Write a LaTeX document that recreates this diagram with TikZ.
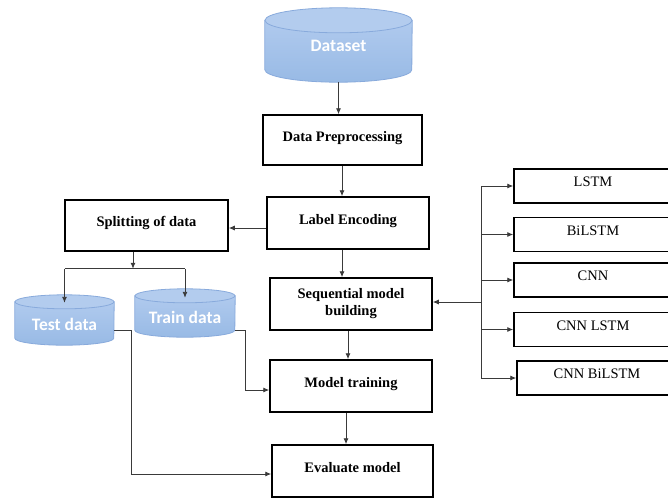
\documentclass[tikz,border=0pt]{standalone}
\usepackage{fontspec}
\setmainfont{Liberation Serif}
\newfontfamily\cylfont{Carlito}
\usetikzlibrary{arrows.meta,calc}
\definecolor{cylbodytop}{HTML}{B0CAEE}
\definecolor{cylbodybot}{HTML}{98BAE5}
\definecolor{cyltop}{HTML}{B3CCEE}
\definecolor{cyledge}{HTML}{88AADC}
\definecolor{linkcol}{HTML}{3A3A3A}
% cylinder outline inside the bounds of node #1, ellipse radii #2 and #3
\newcommand\storeshape[3]{%
  \path[top color=cylbodytop,bottom color=cylbodybot,draw=cyledge,line width=0.8pt]
    ([yshift=-#3]#1.north west) -- ([yshift=#3]#1.south west)
    arc[start angle=180,end angle=360,x radius=#2,y radius=#3]
    -- ([yshift=-#3]#1.north east) -- cycle;
  \path[fill=cyltop,draw=cyledge,line width=0.8pt]
    ([yshift=-#3]#1.north) ellipse[x radius=#2,y radius=#3];
}
\begin{document}
\begin{tikzpicture}[x=1pt,y=-1pt,
  stepbox/.style={draw=black,line width=1.5pt,rectangle,inner sep=2pt,
    font=\fontsize{14.5}{17}\selectfont\bfseries,text height=10pt,text depth=8pt},
  modelbox/.style={draw=black,line width=1.5pt,rectangle,minimum height=34pt,
    font=\fontsize{14.5}{16}\selectfont,text height=10pt,text depth=9pt},
  store/.style={rectangle,inner sep=0pt},
  storetext/.style={text=white,font=\cylfont\bfseries\fontsize{17.5}{19}\selectfont,inner sep=0pt},
  link/.style={draw=linkcol,line width=0.9pt,-{Latex[length=6pt,width=5pt]}},
  wire/.style={draw=linkcol,line width=0.9pt}]
\clip (0,0) rectangle (668,498);
\fill[white] (0,0) rectangle (668,498);

% data stores
\node[store,minimum width=147pt,minimum height=74pt] (ds) at (338.5,45) {};
\storeshape{ds}{73.5pt}{12.5pt}
\node[storetext] (dstext) at (338.5,46) {Dataset};
\node[store,minimum width=99pt,minimum height=50pt] (test) at (64.5,320) {};
\storeshape{test}{49.5pt}{7pt}
\node[storetext] (testtext) at (64.5,324) {Test data};
\node[store,minimum width=100pt,minimum height=48pt] (trn) at (185,313) {};
\storeshape{trn}{50pt}{7pt}
\node[storetext] (trntext) at (185,317) {Train data};

% pipeline steps
\node[stepbox,minimum width=159pt,minimum height=50pt] (pre) at (342.5,140) {Data Preprocessing};
\node[stepbox,minimum width=162pt,minimum height=52pt] (enc) at (348,223) {Label Encoding};
\node[stepbox,minimum width=163pt,minimum height=51pt] (split) at (146.5,225.5) {Splitting of data};
\node[draw=black,line width=1.5pt,rectangle,minimum width=162pt,minimum height=52pt,
  align=center,font=\fontsize{14.5}{17}\selectfont\bfseries] (seq) at (351,304)
  {Sequential model\\building};
\node[stepbox,minimum width=162pt,minimum height=52pt] (train) at (351,386) {Model training};
\node[stepbox,minimum width=161pt,minimum height=52pt] (eval) at (352.5,471) {Evaluate model};

% candidate models
\node[modelbox,minimum width=158pt] (lstm) at (593,186) {LSTM};
\node[modelbox,minimum width=158pt] (bilstm) at (593,234.5) {BiLSTM};
\node[modelbox,minimum width=158pt] (cnn) at (593,280) {CNN};
\node[modelbox,minimum width=158pt] (cnnlstm) at (593,329.5) {CNN LSTM};
\node[modelbox,minimum width=160pt] (cnnbilstm) at (597,378) {CNN BiLSTM};

% main flow
\draw[link] (ds.south) -- (ds.south |- pre.north);
\draw[link] ([xshift=-0.5pt]pre.south) -- ([xshift=-0.5pt]pre.south |- enc.north);
\draw[link] ([xshift=-6pt]enc.south) -- ([xshift=-6pt]enc.south |- seq.north);
\draw[link] ([xshift=-3pt]seq.south) -- ([xshift=-3pt]seq.south |- train.north);
\draw[link] ([xshift=-5pt]train.south) -- ([xshift=-5pt]train.south |- eval.north);
\draw[link] ([yshift=-5pt]enc.west) -- ([yshift=-5pt]enc.west -| split.east);

% split into test and train
\coordinate (fork) at ([xshift=-13.5pt,yshift=-17pt]split.south);
\draw[link] ([xshift=-13.5pt]split.south) -- (fork);
\draw[wire] (fork -| test.north) -- (fork -| trn.north);
\draw[link] (fork -| test.north) -- ([yshift=-8pt]test.north);
\draw[link] (fork -| trn.north) -- ([yshift=-9pt]trn.north);

% stores feed training and evaluation
\draw[link] ([yshift=-17pt]trn.east) -- ++(10pt,0) |- ([yshift=-4pt]train.west);
\draw[link] ([yshift=-10pt]test.east) -- ++(17pt,0) |- ([yshift=-3pt]eval.west);

% model bus
\coordinate (bus) at (481,302);
\draw[wire] (bus |- lstm.west) -- (bus |- cnnbilstm.west);
\draw[link] (bus) -- (bus -| seq.east);
\foreach \m in {lstm,bilstm,cnn,cnnlstm,cnnbilstm}
  \draw[link] (bus |- \m.west) -- (\m.west);
\end{tikzpicture}
\end{document}
